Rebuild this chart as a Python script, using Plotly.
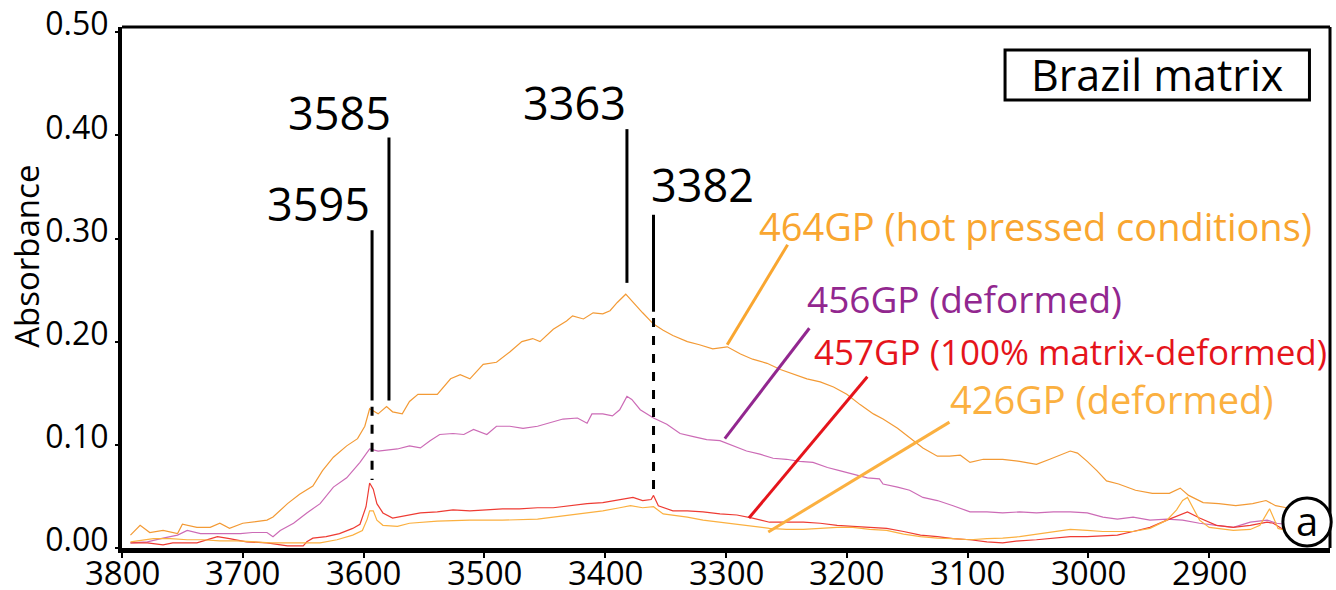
import plotly.graph_objects as go

# ---------------- data (wavenumber cm-1, absorbance) ----------------
s464 = [(3793,.0125),(3785,.022),(3777,.015),(3766,.017),(3754,.014),(3750,.023),(3738,.020),(3727,.020),
        (3719,.024),(3711,.019),(3700,.024),(3692,.025),(3680,.027),(3675,.030),(3663,.043),(3653,.052),
        (3642,.060),(3634,.075),(3625,.088),(3614,.099),(3605,.106),(3599,.118),(3595,.135),(3588,.130),
        (3581,.137),(3576,.132),(3568,.130),(3562,.142),(3555,.149),(3539,.149),(3528,.164),(3520,.168),
        (3512,.164),(3501,.178),(3490,.180),(3479,.190),(3469,.200),(3460,.203),(3454,.200),(3443,.212),
        (3432,.220),(3427,.225),(3418,.222),(3410,.228),(3402,.227),(3396,.230),(3390,.238),(3383,.246),
        (3377,.238),(3369,.228),(3360,.217),(3352,.211),(3344,.206),(3332,.200),(3322,.197),(3311,.193),
        (3299,.195),(3288,.188),(3278,.183),(3266,.179),(3255,.173),(3245,.169),(3233,.164),(3222,.161),
        (3211,.156),(3200,.149),(3189,.139),(3178,.130),(3170,.125),(3158,.116),(3148,.107),(3137,.097),
        (3125,.089),(3115,.089),(3106,.090),(3098,.083),(3087,.086),(3071,.086),(3057,.084),(3043,.081),
        (3032,.086),(3022,.091),(3015,.094),(3009,.092),(3001,.084),(2993,.075),(2985,.065),(2975,.062),
        (2961,.056),(2947,.053),(2933,.053),(2924,.058),(2917,.051),(2905,.044),(2892,.043),(2878,.041),
        (2864,.043),(2853,.046),(2845,.041),(2836,.039),(2828,.038)]

s456 = [(3793,.005),(3779,.006),(3766,.0095),(3754,.0125),(3746,.017),(3735,.014),(3725,.014),(3713,.014),
        (3702,.014),(3692,.015),(3680,.015),(3675,.011),(3669,.017),(3658,.024),(3647,.034),(3636,.043),
        (3625,.059),(3614,.068),(3603,.083),(3595,.096),(3588,.094),(3572,.096),(3562,.099),(3553,.097),
        (3545,.104),(3537,.110),(3526,.111),(3517,.110),(3509,.115),(3498,.110),(3490,.118),(3479,.118),
        (3468,.116),(3456,.118),(3446,.121),(3435,.125),(3423,.126),(3415,.121),(3411,.130),(3402,.130),
        (3394,.128),(3388,.134),(3382,.147),(3378,.144),(3371,.134),(3360,.126),(3349,.120),(3338,.111),
        (3327,.108),(3316,.105),(3305,.104),(3294,.099),(3283,.094),(3272,.091),(3261,.087),(3250,.086),
        (3239,.084),(3228,.083),(3216,.078),(3206,.075),(3195,.072),(3183,.068),(3173,.067),(3170,.062),
        (3158,.059),(3148,.056),(3137,.049),(3125,.046),(3112,.041),(3098,.035),(3084,.035),(3071,.034),
        (3057,.035),(3043,.034),(3029,.035),(3015,.035),(3001,.034),(2988,.030),(2976,.028),(2963,.030),
        (2949,.027),(2935,.028),(2922,.027),(2908,.024),(2894,.022),(2880,.020),(2866,.025),(2852,.027),
        (2844,.024),(2830,.022)]

s457 = [(3793,.005),(3779,.005),(3766,.003),(3758,.005),(3738,.005),(3730,.008),(3721,.011),(3711,.009),
        (3697,.006),(3680,.005),(3663,.002),(3650,.002),(3647,.006),(3642,.0095),(3631,.011),(3620,.014),
        (3609,.019),(3603,.023),(3598,.040),(3595,.063),(3592,.057),(3589,.043),(3584,.034),(3576,.029),
        (3564,.032),(3553,.034),(3539,.035),(3526,.037),(3512,.036),(3498,.037),(3485,.038),(3471,.038),
        (3456,.039),(3443,.039),(3429,.041),(3415,.043),(3402,.044),(3388,.047),(3377,.049),(3369,.046),
        (3362,.047),(3360,.051),(3356,.041),(3344,.036),(3332,.036),(3319,.035),(3305,.033),(3291,.032),
        (3278,.029),(3264,.025),(3250,.025),(3236,.025),(3222,.024),(3208,.022),(3195,.021),(3181,.020),
        (3167,.019),(3153,.016),(3139,.0125),(3125,.011),(3112,.009),(3098,.008),(3084,.006),(3071,.005),
        (3057,.007),(3043,.008),(3029,.0095),(3015,.011),(3001,.011),(2988,.0115),(2976,.0125),(2963,.016),
        (2949,.020),(2935,.027),(2924,.032),(2918,.035),(2908,.029),(2894,.022),(2880,.020),(2866,.022),
        (2852,.025),(2847,.024),(2840,.019),(2830,.016)]

s426 = [(3793,.006),(3774,.009),(3760,.009),(3746,.008),(3733,.008),(3719,.007),(3705,.007),(3692,.006),
        (3677,.005),(3663,.005),(3650,.005),(3636,.005),(3622,.008),(3609,.0125),(3601,.017),(3597,.028),
        (3595,.036),(3592,.036),(3589,.027),(3584,.022),(3572,.021),(3562,.024),(3539,.026),(3512,.027),
        (3485,.027),(3456,.028),(3443,.030),(3429,.032),(3415,.034),(3402,.036),(3388,.039),(3379,.041),
        (3369,.039),(3360,.040),(3352,.033),(3332,.030),(3319,.027),(3305,.025),(3291,.023),(3278,.021),
        (3264,.019),(3250,.018),(3236,.018),(3222,.019),(3208,.020),(3195,.020),(3181,.018),(3167,.017),
        (3153,.0135),(3139,.011),(3125,.0095),(3112,.009),(3098,.008),(3084,.009),(3071,.0095),(3057,.011),
        (3043,.0135),(3029,.016),(3015,.018),(3001,.017),(2988,.016),(2976,.016),(2963,.016),(2949,.019),
        (2935,.027),(2927,.037),(2922,.046),(2918,.049),(2913,.038),(2908,.027),(2900,.020),(2880,.017),
        (2866,.018),(2858,.022),(2852,.034),(2850,.038),(2847,.030),(2843,.019),(2830,.015)]

x_ticks = [3800, 3700, 3600, 3500, 3400, 3300, 3200, 3100, 3000, 2900]
y_ticks = [0.0, 0.1, 0.2, 0.3, 0.4, 0.5]

# peak marker lines: x, y_top, y_solid_end, y_dash_end
peak_lines = [
    (3593, 0.308, 0.143, 0.066),
    (3579, 0.398, 0.143, None),
    (3382, 0.406, 0.257, None),
    (3360, 0.323, 0.229, 0.056),
]
# peak labels: text, x, y, anchor side
peak_labels = [("3595", 3593, 0.334, "right"), ("3585", 3576, 0.422, "right"),
               ("3363", 3381, 0.432, "right"), ("3382", 3364, 0.352, "left")]

# sample labels: text, colour, font size, text anchor (wn, abs), leader from / to (wn, abs)
samples = [
    ("464GP (hot pressed conditions)", "#F9A630", 38, (3274, 0.312), (3299, 0.197), (3249, 0.294)),
    ("456GP (deformed)", "#92278F", 37, (3235, 0.242), (3301, 0.106), (3231, 0.213)),
    ("457GP (100% matrix-deformed)", "#E5141B", 35, (3229, 0.190), (3281, 0.029), (3183, 0.166)),
    ("426GP (deformed)", "#FBB040", 38, (3116, 0.144), (3265, 0.0155), (3115, 0.122)),
]

series = [("464GP", s464, "#F39A35"), ("456GP", s456, "#CC6BB6"),
          ("457GP", s457, "#EE3B33"), ("426GP", s426, "#FBB040")]

FONT = "Open Sans"

fig = go.Figure()
for name, data, col in series:
    fig.add_trace(go.Scatter(x=[p[0] for p in data], y=[p[1] for p in data], mode="lines",
                             name=name, line=dict(color=col, width=1.2), showlegend=False,
                             hoverinfo="skip"))

shapes = []
for x, yt, ys, yd in peak_lines:
    shapes.append(dict(type="line", xref="x", yref="y", x0=x, x1=x, y0=yt, y1=ys,
                       line=dict(color="black", width=3)))
    if yd is not None:
        shapes.append(dict(type="line", xref="x", yref="y", x0=x, x1=x, y0=ys - 0.006, y1=yd,
                           line=dict(color="black", width=3, dash="dash")))

for text, col, _, _, p0, p1 in samples:
    shapes.append(dict(type="line", xref="x", yref="y", x0=p0[0], y0=p0[1], x1=p1[0], y1=p1[1],
                       line=dict(color=col, width=3)))

# frame top/right
shapes.append(dict(type="line", xref="paper", yref="paper", x0=0, x1=1, y0=1, y1=1,
                   line=dict(color="black", width=3)))
shapes.append(dict(type="line", xref="paper", yref="paper", x0=1, x1=1, y0=0, y1=1,
                   line=dict(color="black", width=3)))
# title box
shapes.append(dict(type="rect", xref="paper", yref="paper", x0=0.731, x1=0.983, y0=0.860, y1=0.956,
                   line=dict(color="black", width=3), fillcolor="white"))
# panel letter circle
shapes.append(dict(type="circle", xref="paper", yref="paper", x0=0.961, x1=1.001, y0=0.004, y1=0.096,
                   line=dict(color="black", width=3), fillcolor="white", layer="above"))

annotations = []
# x tick labels (placed as annotations at the tick values, just below the axis)
for v in x_ticks:
    annotations.append(dict(x=v, y=-0.046, xref="x", yref="paper", text=str(v), showarrow=False,
                            xanchor="center", yanchor="middle", height=34, valign="middle",
                            font=dict(family=FONT, size=33, color="black")))
for text, x, y, side in peak_labels:
    annotations.append(dict(x=x, y=y, xref="x", yref="y", text=text, showarrow=False,
                            xanchor=side, yanchor="middle", font=dict(family=FONT, size=45, color="black")))
for text, col, fs, (tx, ty), _, _ in samples:
    annotations.append(dict(x=tx, y=ty, xref="x", yref="y", text=text, showarrow=False,
                            xanchor="left", yanchor="middle", font=dict(family=FONT, size=fs, color=col)))
annotations.append(dict(x=0.857, y=0.908, xref="paper", yref="paper", text="Brazil matrix",
                        showarrow=False, xanchor="center", yanchor="middle",
                        font=dict(family=FONT, size=43, color="black")))
annotations.append(dict(x=0.981, y=0.052, xref="paper", yref="paper", text="a",
                        showarrow=False, xanchor="center", yanchor="middle",
                        font=dict(family=FONT, size=40, color="black")))
annotations.append(dict(x=-0.079, y=0.560, xref="paper", yref="paper", text="Absorbance",
                        showarrow=False, textangle=-90, xanchor="center", yanchor="middle",
                        font=dict(family=FONT, size=33, color="black")))

fig.update_layout(
    width=1336, height=590,
    margin=dict(l=122, r=6, t=27, b=42, pad=0, autoexpand=False),
    paper_bgcolor="white", plot_bgcolor="white",
    shapes=shapes, annotations=annotations,
    font=dict(family=FONT, color="black"),
    xaxis=dict(range=[3800, 2800], tickvals=x_ticks, showticklabels=False,
               showgrid=False, zeroline=False, showline=True, linecolor="black", linewidth=5,
               ticks="outside", ticklen=5, tickwidth=2, tickcolor="black", automargin=False),
    yaxis=dict(range=[0, 0.505], tickvals=y_ticks, ticktext=["%.2f" % v for v in y_ticks],
               showgrid=False, zeroline=False, showline=True, linecolor="black", linewidth=4,
               ticks="outside", ticklen=3, tickwidth=2, tickcolor="black",
               automargin=False, tickfont=dict(family=FONT, size=32, color="black"), ticklabelshift=-8),
)

fig.write_html("out.html")
